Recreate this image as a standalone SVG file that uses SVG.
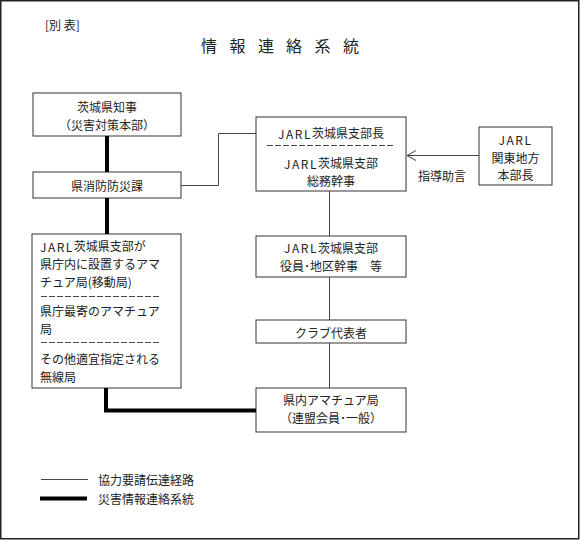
<svg xmlns="http://www.w3.org/2000/svg" width="580" height="540" viewBox="0 0 580 540">
<style>
text{font-family:"Noto Sans CJK JP","Noto Sans",sans-serif;font-size:12px;fill:#222;dominant-baseline:central}
.c{text-anchor:middle}
.box{fill:#fff;stroke:#333;stroke-width:1}
.thin{fill:none;stroke:#444;stroke-width:1}
.thick{fill:none;stroke:#000;stroke-width:4}
.dash{stroke:#444;stroke-width:1;stroke-dasharray:6 2}
.j{letter-spacing:1.5px}
</style>
<defs>
<marker id="open" markerWidth="12" markerHeight="12" refX="9" refY="6" orient="auto" markerUnits="userSpaceOnUse">
<path d="M0,1 L9,6 L0,11" fill="none" stroke="#444" stroke-width="1"/>
</marker>
</defs>
<rect x="0.75" y="0.75" width="578" height="538" fill="#fff" stroke="#222" stroke-width="1.5"/>
<text x="45" y="24">[別 表]</text>
<text x="201 229.5 258 286 314.5 343" y="45" style="font-size:16px">情報連絡系統</text>

<g id="governor">
<rect class="box" x="33" y="93" width="148" height="43"/>
<text class="c" x="107" y="106">茨城県知事<tspan x="107" dy="18">（災害対策本部）</tspan></text>
</g>
<g id="bousai">
<rect class="box" x="33" y="172" width="148" height="26"/>
<text class="c" x="107" y="185">県消防防災課</text>
</g>
<g id="stations">
<rect class="box" x="32" y="234" width="149" height="154"/>
<text x="40" y="245.5"><tspan class="j">JARL</tspan>茨城県支部が<tspan x="40" dy="17.5">県庁内に設置するアマ</tspan><tspan x="40" dy="17.5">チュア局(移動局)</tspan></text>
<line class="dash" x1="41" y1="296.5" x2="160" y2="296.5"/>
<text x="40" y="310">県庁最寄のアマチュア<tspan x="40" dy="17.5">局</tspan></text>
<line class="dash" x1="41" y1="342.5" x2="160" y2="342.5"/>
<text x="40" y="358">その他適宜指定される<tspan x="40" dy="17.5">無線局</tspan></text>
</g>
<g id="branch-chief">
<rect class="box" x="256" y="117" width="150" height="74"/>
<text class="c" x="331" y="132.5"><tspan class="j">JARL</tspan>茨城県支部長</text>
<line class="dash" x1="267" y1="145.5" x2="394" y2="145.5"/>
<text class="c" x="331" y="162.5"><tspan class="j">JARL</tspan>茨城県支部<tspan x="331" dy="17.5">総務幹事</tspan></text>
</g>
<g id="kanto">
<rect class="box" x="479" y="127" width="73" height="58"/>
<text class="c" x="515.5" y="139"><tspan class="j">JARL</tspan><tspan x="515.5" dy="17.5">関東地方</tspan><tspan x="515.5" dy="17.5">本部長</tspan></text>
</g>
<g id="officers">
<rect class="box" x="256" y="236" width="150" height="41"/>
<text class="c" x="331" y="247"><tspan class="j">JARL</tspan>茨城県支部<tspan x="331" dy="17.5">役員･地区幹事　等</tspan></text>
</g>
<g id="club">
<rect class="box" x="256" y="320" width="150" height="23"/>
<text class="c" x="331" y="332">クラブ代表者</text>
</g>
<g id="amateur">
<rect class="box" x="256" y="388" width="150" height="44"/>
<text class="c" x="331" y="399.5">県内アマチュア局<tspan x="331" dy="17.5">（連盟会員･一般）</tspan></text>
</g>

<g id="connectors">
<line class="thick" x1="107" y1="136" x2="107" y2="172"/>
<line class="thick" x1="107" y1="198" x2="107" y2="234"/>
<polyline class="thick" points="106,388 106,410.5 256,410.5"/>
<polyline class="thin" points="181,185.5 218.5,185.5 218.5,133.5 256,133.5"/>
<line class="thin" x1="479" y1="155.5" x2="407" y2="155.5" marker-end="url(#open)"/>
<line class="thin" x1="329.5" y1="191" x2="329.5" y2="236"/>
<line class="thin" x1="329.5" y1="277" x2="329.5" y2="320"/>
<line class="thin" x1="329.5" y1="343" x2="329.5" y2="388"/>
<text class="c" x="442" y="175">指導助言</text>
</g>

<g id="legend">
<line class="thin" x1="41" y1="479.5" x2="88" y2="479.5"/>
<line x1="40" y1="498.5" x2="87" y2="498.5" stroke="#000" stroke-width="4"/>
<text x="98" y="479">協力要請伝達経路<tspan x="98" dy="19">災害情報連絡系統</tspan></text>
</g>
</svg>
